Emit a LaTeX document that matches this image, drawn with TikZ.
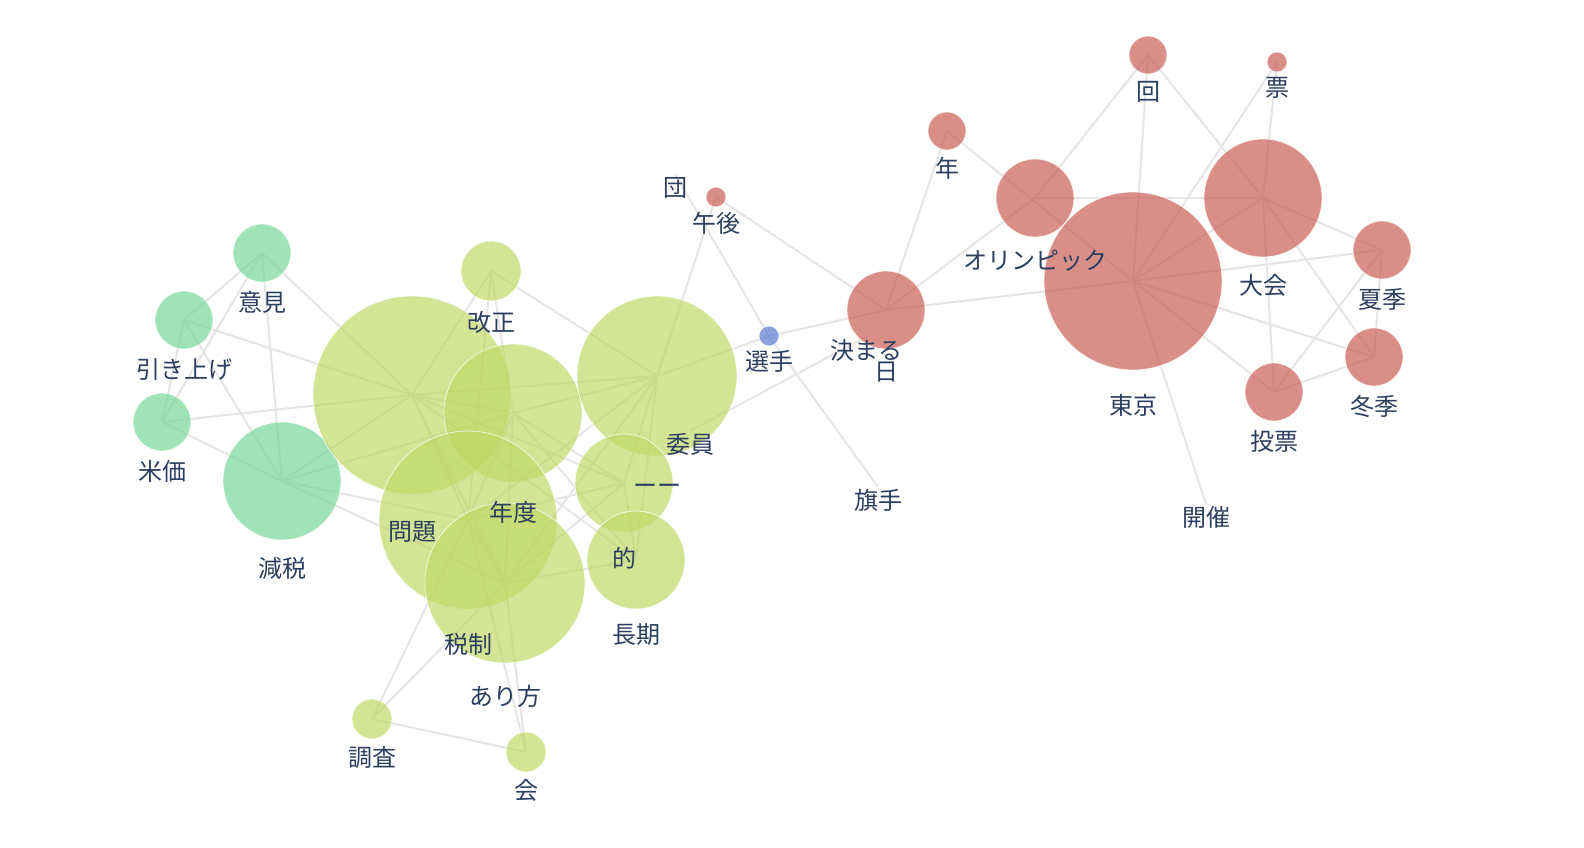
\documentclass[tikz,border=0pt]{standalone}
\usepackage{fontspec}
\setmainfont{Noto Sans CJK JP}
\usetikzlibrary{backgrounds}

\definecolor{edgegray}{RGB}{230,228,228}
\definecolor{txtblue}{RGB}{42,63,95}
\definecolor{mint}{RGB}{121,215,155}
\definecolor{lime}{RGB}{192,216,102}
\definecolor{salmon}{RGB}{201,95,85}
\definecolor{cornflower}{RGB}{91,124,211}

\pgfdeclarelayer{front}
\pgfsetlayers{background,main,front}

\tikzset{
  bubble/.style={circle,inner sep=0pt,minimum size=2*#1,draw=white,line width=0.8pt,
    fill opacity=0.7,draw opacity=0.7},
  lbl/.style={font=\fontsize{24}{24}\selectfont,text=txtblue,inner sep=0pt},
  link/.style={draw=edgegray,line width=2pt},
}

\begin{document}
\begin{tikzpicture}[x=1pt,y=-1pt]
\useasboundingbox (0,0) rectangle (1584,848);
% tax words (mint)
\foreach \n/\x/\y/\rad/\txt in {iken/262/253/29/意見, hikiage/184/320/29/引き上げ,
    beika/162/422/29/米価, genzei/282/481/59/減税}
{
    \node[bubble=\rad, fill=mint] (\n) at (\x,\y) {};
    \begin{pgfonlayer}{front}
    \node[lbl] (\n-l) at (\x,\y+1.25*\rad+13.5) {\txt};
    \end{pgfonlayer}
}
% tax system words (lime)
\foreach \n/\x/\y/\rad/\txt in {mondai/412/395/99/問題, kaisei/491/271/30/改正,
    nendo/513/413/69/年度, zeisei/468/520/89/税制, arikata/505/583/80/あり方,
    bar/657/376/80/ーー, teki/624/483/49/的, choki/636/560/49/長期,
    chosa/372/719/20/調査, kai/526/752/20/会}
{
    \node[bubble=\rad, fill=lime] (\n) at (\x,\y) {};
    \begin{pgfonlayer}{front}
    \node[lbl] (\n-l) at (\x,\y+1.25*\rad+13.5) {\txt};
    \end{pgfonlayer}
}
% olympic words (salmon)
\foreach \n/\x/\y/\rad/\txt in {gogo/716/197/10/午後, hi/886/310/39/日,
    nen/947/131/19/年, kaime/1148/55/19/回, hyo/1277/62/10/票,
    olympic/1035/198/39/オリンピック, tokyo/1133/281/89/東京, taikai/1263/198/59/大会,
    kaki/1382/250/29/夏季, toki/1374/357/29/冬季, tohyo/1274/392/29/投票}
{
    \node[bubble=\rad, fill=salmon] (\n) at (\x,\y) {};
    \begin{pgfonlayer}{front}
    \node[lbl] (\n-l) at (\x,\y+1.25*\rad+13.5) {\txt};
    \end{pgfonlayer}
}
\node[bubble=10, fill=cornflower] (senshu) at (769,336) {};
% words with no bubble
\begin{pgfonlayer}{front}
\node[lbl] (senshu-l) at (769,361.5) {選手};
\foreach \n/\x/\y/\txt in {dan/675/174/団, iin/690/431/委員, kimaru/866/337/決まる,
    kishu/878/487/旗手, kaisai/1206/504/開催}
{
    \coordinate (\n) at (\x,\y);
    \node[lbl] (\n-l) at (\x,\y+13.5) {\txt};
}
\end{pgfonlayer}
\begin{scope}[on background layer]
\foreach \a/\b in {iken/hikiage, iken/beika, iken/genzei, iken/mondai, hikiage/beika,
    hikiage/genzei, hikiage/mondai, beika/mondai, beika/genzei, genzei/mondai,
    genzei/nendo, genzei/zeisei, genzei/arikata,
    mondai/kaisei, mondai/nendo, mondai/zeisei, mondai/arikata, mondai/bar,
    mondai/teki, mondai/choki, kaisei/nendo, kaisei/zeisei, kaisei/bar,
    nendo/zeisei, nendo/arikata, nendo/bar, nendo/teki, nendo/choki,
    zeisei/arikata, zeisei/bar, zeisei/teki, zeisei/chosa, zeisei/kai,
    arikata/bar, arikata/teki, arikata/choki, arikata/chosa, arikata/kai,
    bar/teki, bar/choki, teki/choki, chosa/kai,
    gogo/hi, gogo/bar, dan/senshu, senshu/bar, senshu/hi, senshu/kishu, kimaru/iin,
    hi/nen, hi/olympic, hi/tokyo, nen/tokyo, kaime/olympic, kaime/tokyo, kaime/taikai,
    hyo/tokyo, hyo/taikai, olympic/taikai, tokyo/taikai, tokyo/kaki, tokyo/toki,
    tokyo/tohyo, tokyo/kaisai, taikai/kaki, taikai/toki, taikai/tohyo, kaki/toki,
    kaki/tohyo, tohyo/toki}
    \draw[link] (\a.center) -- (\b.center);
\end{scope}
\end{tikzpicture}
\end{document}
